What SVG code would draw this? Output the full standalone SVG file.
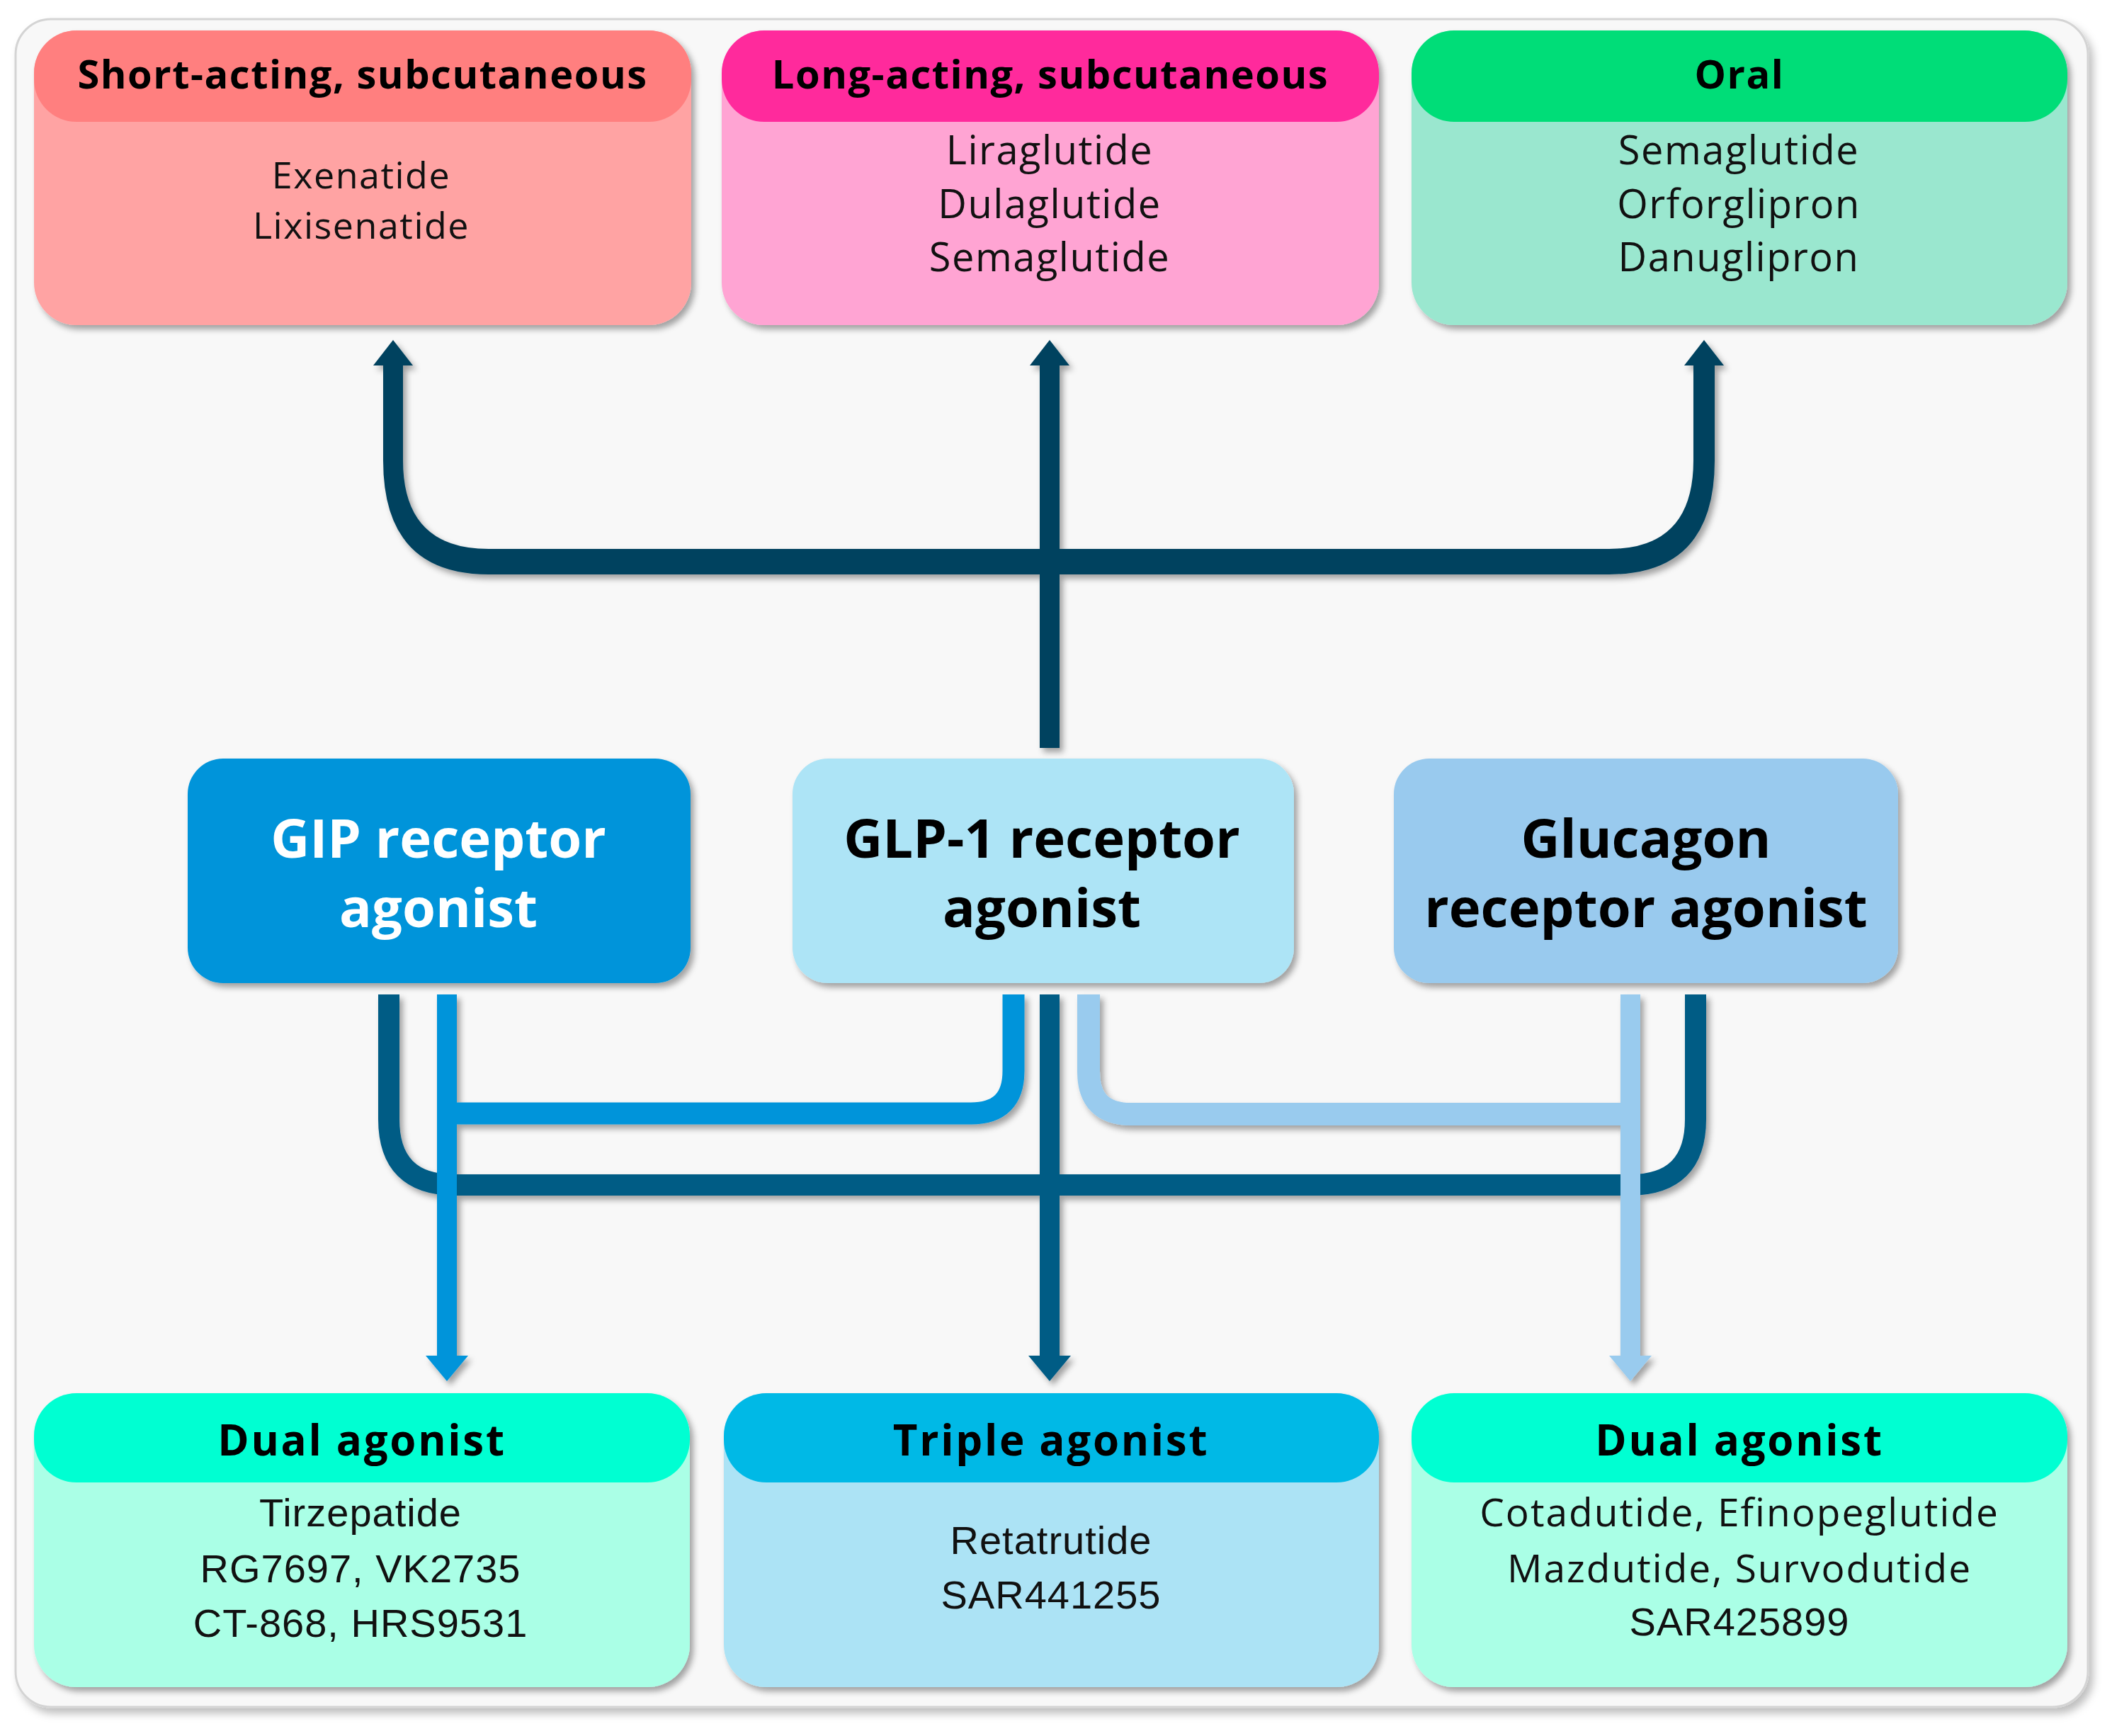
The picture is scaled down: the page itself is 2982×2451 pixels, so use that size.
<svg xmlns="http://www.w3.org/2000/svg" width="2982" height="2451" viewBox="0 0 2982 2451">
<defs>
<filter id="sh" filterUnits="userSpaceOnUse" x="0" y="0" width="2982" height="2451">
<feDropShadow dx="5" dy="6" stdDeviation="4" flood-color="#000" flood-opacity="0.35"/>
</filter>
<filter id="shf" filterUnits="userSpaceOnUse" x="0" y="0" width="2982" height="2451">
<feDropShadow dx="6" dy="8" stdDeviation="6" flood-color="#000" flood-opacity="0.25"/>
</filter>
</defs>
<style>
.hd{font-family:"Open Sans","Liberation Sans",sans-serif;font-weight:700;font-size:56px;letter-spacing:1.5px;fill:#000;text-anchor:middle}
.bd{font-family:"Open Sans","Liberation Sans",sans-serif;font-size:56px;letter-spacing:1.5px;fill:#111;text-anchor:middle}
.bd1{font-family:"Open Sans","Liberation Sans",sans-serif;font-size:52px;letter-spacing:1.5px;fill:#111;text-anchor:middle}
.mid{font-family:"Open Sans","Liberation Sans",sans-serif;font-weight:700;font-size:76px;text-anchor:middle}
.bh{font-family:"Open Sans","Liberation Sans",sans-serif;font-weight:700;font-size:60px;letter-spacing:2.7px;fill:#000;text-anchor:middle}
.ab{font-family:"Liberation Sans",Arial,sans-serif;font-size:56px;letter-spacing:1px;fill:#111;text-anchor:middle}
.ob{font-family:"Open Sans","Liberation Sans",sans-serif;font-size:55px;letter-spacing:2px;fill:#111;text-anchor:middle}
.ln{fill:none;stroke-linejoin:round}
</style>
<rect width="2982" height="2451" fill="#ffffff"/>
<g id="frame">
<rect x="22" y="27" width="2926" height="2383" rx="50" fill="#f8f8f8" stroke="#d4d4d4" stroke-width="3" filter="url(#shf)"/>
</g>

<g id="connectors" filter="url(#sh)">
<!-- top brace -->
<path d="M541 512 V650 Q541 811 690 811 H2272 Q2421 811 2421 650 V512 H2391 V650 Q2391 775 2272 775 H690 Q569 775 569 650 V512 Z" fill="#00425f"/>
<rect x="1468" y="512" width="28" height="544" fill="#00425f"/>
<polygon points="555,480 527,516 583,516" fill="#00425f"/>
<polygon points="1482,480 1454,516 1510,516" fill="#00425f"/>
<polygon points="2406,480 2378,516 2434,516" fill="#00425f"/>
<!-- bottom dark U -->
<path class="ln" d="M549 1404 V1580 Q549 1673 642 1673 H2301 Q2394 1673 2394 1580 V1404" stroke="#005b85" stroke-width="30"/>
<!-- central dark line -->
<rect x="1468" y="1404" width="28" height="516" fill="#005b85"/>
<polygon points="1482,1950 1452,1914 1512,1914" fill="#005b85"/>
<!-- GIP blue -->
<path class="ln" d="M631 1572 H1371 Q1431 1572 1431 1512 V1404" stroke="#0094da" stroke-width="31"/>
<rect x="617" y="1404" width="28" height="516" fill="#0094da"/>
<polygon points="631,1950 601,1914 661,1914" fill="#0094da"/>
<!-- Glucagon light blue -->
<path class="ln" d="M2302 1573 H1597 Q1537 1573 1537 1513 V1404" stroke="#99cbee" stroke-width="32"/>
<rect x="2288" y="1404" width="28" height="516" fill="#99cbee"/>
<polygon points="2302,1950 2272,1914 2332,1914" fill="#99cbee"/>
</g>

<g id="short-acting">
<rect x="48" y="43" width="928" height="416" rx="60" fill="#ffa3a3" filter="url(#sh)"/>
<rect x="48" y="43" width="928" height="129" rx="60" fill="#ff7f7f"/>
<text class="hd" x="512" y="125">Short-acting, subcutaneous</text>
<text class="bd1" x="510" y="266">Exenatide</text>
<text class="bd1" x="510" y="337">Lixisenatide</text>
</g>

<g id="long-acting">
<rect x="1019" y="43" width="928" height="416" rx="60" fill="#ffa4d3" filter="url(#sh)"/>
<rect x="1019" y="43" width="928" height="129" rx="60" fill="#ff2a9c"/>
<text class="hd" x="1483" y="125">Long-acting, subcutaneous</text>
<text class="bd" x="1482" y="232">Liraglutide</text>
<text class="bd" x="1482" y="308">Dulaglutide</text>
<text class="bd" x="1482" y="383">Semaglutide</text>
</g>

<g id="oral">
<rect x="1993" y="43" width="926" height="416" rx="60" fill="#9ae7cf" filter="url(#sh)"/>
<rect x="1993" y="43" width="926" height="129" rx="60" fill="#00dd78"/>
<text class="hd" x="2456" y="125">Oral</text>
<text class="bd" x="2455" y="232">Semaglutide</text>
<text class="bd" x="2455" y="308">Orforglipron</text>
<text class="bd" x="2455" y="383">Danuglipron</text>
</g>

<g id="gip">
<rect x="265" y="1071" width="710" height="317" rx="50" fill="#0094da" filter="url(#sh)"/>
<text class="mid" x="619" y="1211" fill="#ffffff">GIP receptor</text>
<text class="mid" x="619" y="1309" fill="#ffffff">agonist</text>
</g>

<g id="glp1">
<rect x="1119" y="1071" width="708" height="317" rx="50" fill="#ade4f6" filter="url(#sh)"/>
<text class="mid" x="1471" y="1211" fill="#000000">GLP-1 receptor</text>
<text class="mid" x="1471" y="1309" fill="#000000">agonist</text>
</g>

<g id="glucagon">
<rect x="1968" y="1071" width="712" height="317" rx="50" fill="#99caee" filter="url(#sh)"/>
<text class="mid" x="2324" y="1211" fill="#000000">Glucagon</text>
<text class="mid" x="2324" y="1309" fill="#000000">receptor agonist</text>
</g>

<g id="dual-gip">
<rect x="48" y="1967" width="926" height="415" rx="60" fill="#aaffe6" filter="url(#sh)"/>
<rect x="48" y="1967" width="926" height="126" rx="60" fill="#00ffd2"/>
<text class="bh" x="511" y="2055">Dual agonist</text>
<text class="ab" x="509" y="2155">Tirzepatide</text>
<text class="ab" x="509" y="2234">RG7697, VK2735</text>
<text class="ab" x="509" y="2311">CT-868, HRS9531</text>
</g>

<g id="triple">
<rect x="1022" y="1967" width="925" height="415" rx="60" fill="#ace3f5" filter="url(#sh)"/>
<rect x="1022" y="1967" width="925" height="126" rx="60" fill="#00b9e6"/>
<text class="bh" x="1484" y="2055">Triple agonist</text>
<text class="ab" x="1484" y="2194">Retatrutide</text>
<text class="ab" x="1484" y="2271">SAR441255</text>
</g>

<g id="dual-glucagon">
<rect x="1993" y="1967" width="926" height="415" rx="60" fill="#aaffe6" filter="url(#sh)"/>
<rect x="1993" y="1967" width="926" height="126" rx="60" fill="#00ffd2"/>
<text class="bh" x="2456" y="2055">Dual agonist</text>
<text class="ob" x="2456" y="2155">Cotadutide, Efinopeglutide</text>
<text class="ob" x="2456" y="2234">Mazdutide, Survodutide</text>
<text class="ab" x="2456" y="2309">SAR425899</text>
</g>
</svg>
